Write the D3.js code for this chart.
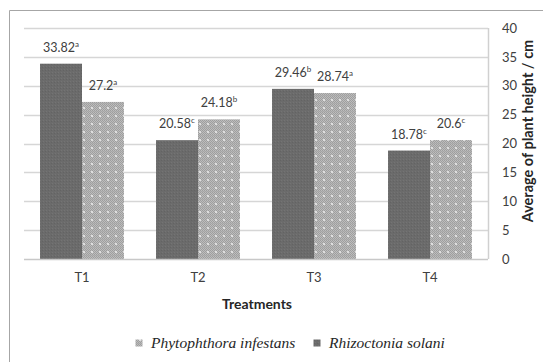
<!DOCTYPE html>
<html>
<head>
<meta charset="utf-8">
<script src="https://cdn.jsdelivr.net/npm/d3@7"></script>
<style>
  html, body { margin: 0; padding: 0; background: #fff; }
  svg { display: block; }
</style>
</head>
<body>
<svg id="chart" width="543" height="362"></svg>
<script>
// Treatments and mean plant height (cm) per pathogen, with significance letters
const categories = ["T1", "T2", "T3", "T4"];
const seriesNames = ["Rhizoctonia solani", "Phytophthora infestans"];
const rhizoctoniaValues = [33.82, 20.58, 29.46, 18.78];
const rhizoctoniaLetters = ["a", "c", "b", "c"];
const phytophthoraValues = [27.2, 24.18, 28.74, 20.6];
const phytophthoraLetters = ["a", "b", "a", "c"];
const yTicks = [0, 5, 10, 15, 20, 25, 30, 35, 40];

const svg = d3.select("#chart");
const plot = { left: 24, right: 488, top: 28, bottom: 259 };
const textColor = "#404040";
const sansFont = "Lato, 'Liberation Sans', sans-serif";

// Fill patterns: dark speckled grey and a light dotted grid
const defs = svg.append("defs");
const dark = defs.append("pattern").attr("id", "darkFill")
  .attr("patternUnits", "userSpaceOnUse").attr("width", 3).attr("height", 3);
dark.append("rect").attr("width", 3).attr("height", 3).attr("fill", "#6b6b6b");
dark.append("rect").attr("x", 0).attr("y", 0).attr("width", 1).attr("height", 1).attr("fill", "#747474");
dark.append("rect").attr("x", 2).attr("y", 1).attr("width", 1).attr("height", 1).attr("fill", "#636363");

const light = defs.append("pattern").attr("id", "lightFill")
  .attr("patternUnits", "userSpaceOnUse").attr("width", 8).attr("height", 8);
light.append("rect").attr("width", 8).attr("height", 8).attr("fill", "#bdbdbd");
for (let i = 0; i < 8; i++) {
  for (let j = 0; j < 8; j++) {
    if ((i + j) % 2 === 0) {
      light.append("rect").attr("x", i).attr("y", j).attr("width", 1).attr("height", 1)
        .attr("fill", "#9e9e9e");
    }
  }
}
light.append("rect").attr("x", 3).attr("y", 3).attr("width", 2).attr("height", 2).attr("fill", "#dedede");
light.append("rect").attr("x", 0).attr("y", 7).attr("width", 8).attr("height", 1).attr("fill", "#aaaaaa").attr("opacity", 0.5);

// Outer chart border (runs off the right and bottom edges)
svg.append("path")
  .attr("d", "M9.5,362 V10.5 H543")
  .attr("fill", "none").attr("stroke", "#a6a6a6").attr("stroke-width", 1);

// Scales
const x = d3.scaleBand().domain(categories).range([plot.left, plot.right])
  .paddingInner(0.276).paddingOuter(0.138);
const inner = d3.scaleBand().domain(seriesNames).range([0, x.bandwidth()]).padding(0);
const y = d3.scaleLinear().domain([0, 40]).range([plot.bottom, plot.top]);

// Gridlines
svg.append("g").selectAll("line").data(yTicks.filter(d => d > 0)).join("line")
  .attr("x1", plot.left).attr("x2", plot.right)
  .attr("y1", d => Math.round(y(d)) + 0.5).attr("y2", d => Math.round(y(d)) + 0.5)
  .attr("stroke", "#d6d6d6").attr("stroke-width", 1.5);

// Right axis line
svg.append("line")
  .attr("x1", plot.right + 0.5).attr("x2", plot.right + 0.5)
  .attr("y1", plot.top).attr("y2", plot.bottom)
  .attr("stroke", "#d0d0d0").attr("stroke-width", 1.5);

// Bars
const rows = categories.map((c, i) => ({
  cat: c,
  bars: [
    { s: seriesNames[0], v: rhizoctoniaValues[i], l: rhizoctoniaLetters[i], fill: "url(#darkFill)" },
    { s: seriesNames[1], v: phytophthoraValues[i], l: phytophthoraLetters[i], fill: "url(#lightFill)" }
  ]
}));

const groups = svg.append("g").selectAll("g").data(rows).join("g")
  .attr("transform", d => `translate(${x(d.cat)},0)`);

groups.selectAll("rect").data(d => d.bars).join("rect")
  .attr("x", d => inner(d.s))
  .attr("y", d => y(d.v))
  .attr("width", inner.bandwidth())
  .attr("height", d => y(0) - y(d.v))
  .attr("fill", d => d.fill);

// Value labels with superscript letters
const labels = groups.selectAll("text.val").data(d => d.bars).join("text")
  .attr("class", "val")
  .attr("x", d => inner(d.s) + inner.bandwidth() / 2)
  .attr("y", d => y(d.v) - 12)
  .attr("text-anchor", "middle")
  .attr("font-family", sansFont).attr("font-size", 12.5)
  .attr("fill", textColor);
labels.append("tspan").text(d => d.v);
labels.append("tspan").attr("dy", -5).attr("font-size", 8).text(d => d.l);

// Baseline
svg.append("line")
  .attr("x1", plot.left).attr("x2", plot.right)
  .attr("y1", plot.bottom + 0.5).attr("y2", plot.bottom + 0.5)
  .attr("stroke", "#c8c8c8").attr("stroke-width", 1.5);

// Right y axis labels
const yAxis = d3.axisRight(y).tickValues(yTicks).tickSize(0).tickPadding(14);
const yg = svg.append("g").attr("transform", `translate(${plot.right},0)`).call(yAxis);
yg.select(".domain").remove();
yg.selectAll("text").attr("font-family", sansFont).attr("font-size", 13)
  .attr("fill", textColor);

// X axis labels
const xAxis = d3.axisBottom(x).tickSize(0).tickPadding(14);
const xg = svg.append("g").attr("transform", `translate(0,${plot.bottom})`).call(xAxis);
xg.select(".domain").remove();
xg.selectAll("text").attr("font-family", sansFont).attr("font-size", 13)
  .attr("fill", textColor);

// Axis titles
svg.append("text")
  .attr("x", (plot.left + plot.right) / 2 + 1).attr("y", 309)
  .attr("text-anchor", "middle")
  .attr("font-family", sansFont).attr("font-size", 14).attr("font-weight", "bold")
  .attr("fill", "#262626")
  .text("Treatments");

svg.append("text")
  .attr("transform", "translate(533,131) rotate(-90)")
  .attr("text-anchor", "middle")
  .attr("font-family", sansFont).attr("font-size", 14.5).attr("font-weight", "bold")
  .attr("fill", "#262626")
  .text("Average of plant height / cm");

// Legend
const legendItems = [
  { name: seriesNames[1], fill: "url(#lightFill)", mx: 139, tx: 151 },
  { name: seriesNames[0], fill: "url(#darkFill)", mx: 317, tx: 329 }
];
const lg = svg.append("g").selectAll("g").data(legendItems).join("g");
lg.append("rect")
  .attr("x", d => d.mx - 3.5).attr("y", 339.5).attr("width", 7).attr("height", 7)
  .attr("fill", d => d.fill);
lg.append("text")
  .attr("x", d => d.tx).attr("y", 348)
  .attr("font-family", "'Liberation Serif', 'Times New Roman', serif")
  .attr("font-style", "italic").attr("font-size", 15.5)
  .attr("fill", "#262626")
  .text(d => d.name);
</script>
</body>
</html>
